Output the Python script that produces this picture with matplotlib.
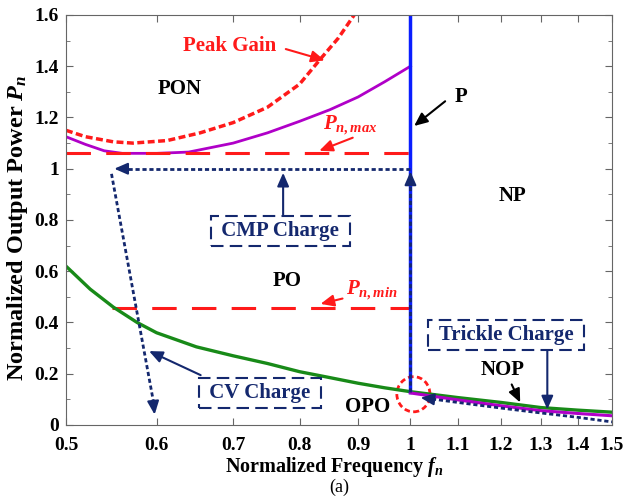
import matplotlib
matplotlib.use("Agg")
import matplotlib.pyplot as plt
from matplotlib.patches import Ellipse
from matplotlib.ticker import FixedLocator, NullLocator, FormatStrFormatter, MultipleLocator

plt.rcParams['font.family'] = ['Liberation Serif', 'DejaVu Serif']
plt.rcParams['font.weight'] = 'bold'
plt.rcParams['mathtext.fontset'] = 'custom'
plt.rcParams['mathtext.rm'] = 'Liberation Serif:bold'
plt.rcParams['mathtext.it'] = 'Liberation Serif:italic:bold'
plt.rcParams['mathtext.bf'] = 'Liberation Serif:bold'

# ---- data ----
f_green = [0.5, 0.525, 0.55, 0.577, 0.6, 0.65, 0.7, 0.75, 0.8, 0.85, 0.9, 0.95, 1.0, 1.1, 1.2, 1.3, 1.4, 1.5]
p_green = [0.62, 0.53, 0.46, 0.40, 0.36, 0.305, 0.27, 0.24, 0.208, 0.185, 0.163, 0.145, 0.13, 0.107, 0.088, 0.068, 0.058, 0.05]

f_mag_hi = [0.5, 0.52, 0.54, 0.56, 0.6, 0.64, 0.7, 0.75, 0.8, 0.85, 0.9, 0.95, 1.0]
p_mag_hi = [1.125, 1.095, 1.07, 1.06, 1.06, 1.065, 1.10, 1.14, 1.185, 1.23, 1.28, 1.34, 1.40]

f_mag_lo = [1.0, 1.1, 1.2, 1.3, 1.4, 1.5]
p_mag_lo = [0.125, 0.098, 0.075, 0.056, 0.045, 0.036]

f_peak = [0.5, 0.52, 0.55, 0.572, 0.613, 0.655, 0.70, 0.75, 0.80, 0.835, 0.865, 0.893, 0.91]
p_peak = [1.15, 1.125, 1.105, 1.10, 1.11, 1.14, 1.18, 1.24, 1.33, 1.43, 1.51, 1.60, 1.66]

f_trickle = [1.03, 1.1, 1.2, 1.3, 1.4, 1.5]
p_trickle = [0.105, 0.088, 0.066, 0.047, 0.03, 0.012]

p_max = 1.06
p_min = 0.455
f_pmin_start = 0.548
f_res = 1.0
p_cmp = 1.0
f_cv_start = 0.548
f_cv_end = 0.598
p_cv_end = 0.03

xticks = [0.5, 0.6, 0.7, 0.8, 0.9, 1.0, 1.1, 1.2, 1.3, 1.4, 1.5]

red = '#ff1a1a'
navy = '#14286e'
green = '#188a18'
mag = '#b000c8'
blue = '#0a1eff'

fig = plt.figure(figsize=(6.28, 4.99), dpi=100)
ax = fig.add_axes([0.105, 0.1483, 0.8695, 0.8217])
ax.set_xscale('log')

# curves
ax.plot(f_peak, p_peak, color=red, lw=2.5, ls=(0, (2, 1)))
ax.plot(f_mag_hi, p_mag_hi, color=mag, lw=2)
ax.plot([0.5, f_res], [p_max, p_max], color=red, lw=2.2, ls=(0, (8, 5)))
ax.plot([f_pmin_start, f_res], [p_min, p_min], color=red, lw=2.2, ls=(0, (8, 5)))
ax.plot(f_green, p_green, color=green, lw=2.4)
ax.plot([f_res, f_res], [p_green[12], 1.6], color=blue, lw=2.5)
ax.plot(f_mag_lo, p_mag_lo, color=mag, lw=2.2)

# navy charging trajectory
dot = (0, (1.5, 1))
ax.plot([f_res, f_res], [p_green[12], p_cmp - 0.02], color=navy, lw=2, ls=dot)
ax.plot([f_res, f_cv_start + 0.01], [p_cmp, p_cmp], color=navy, lw=2, ls=dot)
ax.plot([f_cv_start, f_cv_end], [p_cmp - 0.02, p_cv_end + 0.03], color=navy, lw=2, ls=dot)
ax.plot(f_trickle, p_trickle, color=navy, lw=2, ls=dot)
head = dict(arrowstyle='-|>,head_length=0.8,head_width=0.35', color=navy, lw=1.5)
ax.annotate('', xy=(f_res, p_cmp), xytext=(f_res, p_cmp - 0.05), arrowprops=head)
ax.annotate('', xy=(f_cv_start, p_cmp), xytext=(f_cv_start + 0.02, p_cmp), arrowprops=head)
ax.annotate('', xy=(f_cv_end, p_cv_end), xytext=(f_cv_end - 0.002, p_cv_end + 0.06), arrowprops=head)
ax.annotate('', xy=(1.015, 0.108), xytext=(1.05, 0.1), arrowprops=head)

# highlight circle at resonance
ax.add_patch(Ellipse((1.0065, 0.12), 0.067, 0.137, fill=False, ec=red, lw=2, ls=(0, (2, 1.2))))

# labels
tk = dict(fontsize=15, fontweight='bold', ha='center', va='center')
ax.text(0.629, 1.31, 'PON', color='black', **tk)
ax.text(1.229, 0.895, 'NP', color='black', **tk)
ax.text(0.78, 0.56, 'PO', color='black', **tk)
ax.text(0.918, 0.07, 'OPO', color='black', **tk)
ax.text(1.204, 0.215, 'NOP', color='black', **tk)
ax.text(1.106, 1.28, 'P', color='black', **tk)
ax.text(0.695, 1.48, 'Peak Gain', color=red, **tk)
ax.text(0.885, 1.17, r'$P_{n,max}$', color=red, **tk)
ax.text(0.926, 0.527, r'$P_{n,min}$', color=red, **tk)

box = dict(boxstyle='square,pad=0.25', fc='none', ec=navy, lw=1.5, ls=(0, (6, 3)))
ax.text(0.77, 0.758, ' CMP Charge ', color=navy, bbox=box, **tk)
ax.text(1.212, 0.352, ' Trickle Charge ', color=navy, bbox=box, **tk)
ax.text(0.739, 0.125, ' CV Charge ', color=navy, bbox=box, **tk)

arr_k = dict(arrowstyle='-|>,head_length=0.8,head_width=0.35', color='black', lw=1.5)
arr_r = dict(arrowstyle='-|>,head_length=0.8,head_width=0.35', color=red, lw=1.5)
arr_n = dict(arrowstyle='-|>,head_length=0.8,head_width=0.35', color=navy, lw=1.5)
ax.annotate('', xy=(1.003, 1.16), xytext=(1.077, 1.27), arrowprops=arr_k)
ax.annotate('', xy=(1.25, 0.078), xytext=(1.223, 0.168), arrowprops=arr_k)
ax.annotate('', xy=(0.846, 1.42), xytext=(0.774, 1.47), arrowprops=arr_r)
ax.annotate('', xy=(0.828, 1.066), xytext=(0.895, 1.125), arrowprops=arr_r)
ax.annotate('', xy=(0.83, 0.47), xytext=(0.877, 0.496), arrowprops=arr_r)
ax.annotate('', xy=(0.774, 0.995), xytext=(0.774, 0.81), arrowprops=arr_n)
ax.annotate('', xy=(1.317, 0.05), xytext=(1.317, 0.30), arrowprops=arr_n)
ax.annotate('', xy=(0.588, 0.293), xytext=(0.659, 0.19), arrowprops=arr_n)

# axes
ax.set_xlim(0.5, 1.5)
ax.set_ylim(0, 1.6)
ax.xaxis.set_major_locator(FixedLocator(xticks))
ax.xaxis.set_minor_locator(NullLocator())
ax.xaxis.set_major_formatter(FormatStrFormatter('%g'))
ax.yaxis.set_major_locator(MultipleLocator(0.2))
ax.yaxis.set_minor_locator(MultipleLocator(0.1))
ax.yaxis.set_major_formatter(FormatStrFormatter('%g'))
ax.tick_params(which='both', direction='in', top=True, right=True, color='#666666', labelsize=14)
ax.tick_params(which='major', length=5)
ax.tick_params(which='minor', length=3)
ax.tick_params(axis='x', pad=9)
ax.tick_params(axis='y', pad=5)
for s in ax.spines.values():
    s.set_color('#666666')
for lab in ax.get_xticklabels() + ax.get_yticklabels():
    lab.set_fontweight('bold')

ax.set_xlabel(r'Normalized Frequency $f_n$', fontsize=14.5, fontweight='bold')
ax.set_ylabel(r'Normalized Output Power $P_n$', fontsize=17.5, fontweight='bold')
ax.xaxis.set_label_coords(0.492, -0.074)
ax.yaxis.set_label_coords(-0.066, 0.48)
fig.text(0.541, 0.024, '(a)', fontsize=13, fontweight='normal', ha='center', va='center')

fig.savefig('out.png', dpi=100)
